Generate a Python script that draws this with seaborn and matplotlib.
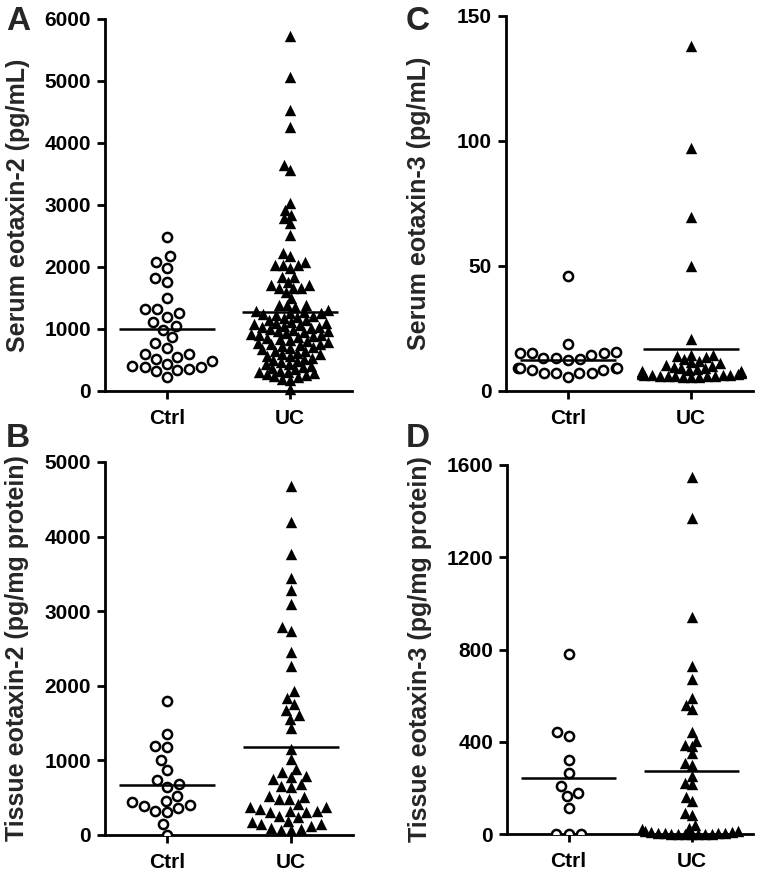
import numpy as np
import pandas as pd
import matplotlib
matplotlib.use('Agg')
import matplotlib.pyplot as plt
from matplotlib.transforms import Bbox, TransformedBbox
import seaborn as sns

groups = ['Ctrl', 'UC']

# A - serum eotaxin-2 (pg/mL)
serum_e2_ctrl = [2490, 2170, 2080, 1990, 1820, 1760, 1500, 1330, 1320, 1250,
                 1200, 1110, 1050, 990, 870, 770, 700, 600, 590, 550,
                 520, 480, 440, 400, 390, 380, 360, 340, 330, 230]
serum_e2_uc = [5730, 5070, 4530, 4260, 3650, 3570, 3030, 2920, 2840, 2790,
               2710, 2520, 2230, 2180, 2080, 2030, 2030, 2030, 1980, 1840,
               1840, 1760, 1710, 1710, 1660, 1660, 1660, 1600, 1500, 1390,
               1390, 1390, 1360,
               1300, 1290, 1270, 1260, 1250, 1240, 1230, 1210, 1200, 1180,
               1150, 1140, 1120, 1100, 1090, 1080, 1060, 1050, 1040, 1030,
               1010, 1000, 990, 970, 960, 950, 930, 920, 910, 900,
               880, 870, 860, 840, 820, 800, 790, 780, 760, 750,
               740, 720, 710, 690, 670, 650, 640, 620, 600, 590,
               570, 560, 540, 520, 500, 480, 460, 440, 430, 410,
               390, 370, 350, 330, 310, 300, 290, 280, 260, 240,
               220, 200, 180, 30]

# B - tissue eotaxin-2 (pg/mg protein)
tissue_e2_ctrl = [1797, 1351, 1182, 1191, 1003, 870, 682, 736, 638, 526,
                  437, 459, 392, 406, 357, 317, 303, 147, 0]
tissue_e2_uc = [4674, 4197, 3769, 3448, 3278, 3100, 2792, 2734, 2457, 2261,
                1842, 1931, 1753, 1681, 1561, 1610, 1432, 1151, 1017,
                883, 838, 749, 794, 772, 682, 660, 638,
                526, 513, 482, 482, 415, 348, 326, 370, 370, 303, 303, 317, 236, 259,
                192, 147, 147, 178, 125, 80, 67, 67, 94]

# C - serum eotaxin-3 (pg/mL)
serum_e3_ctrl = [46, 18.7, 15, 15, 14.3, 15, 15.7, 12.3, 13, 13, 12.7,
                 9, 8.3, 9, 9, 8.3, 9, 7, 7, 7, 7, 5.6]
serum_e3_uc = [138, 97.2, 69.6, 50, 20.9,
               14.5, 14.2, 13.8, 13.5, 12.6, 12, 11.5, 11, 10.5, 10,
               9.6, 9.2, 9, 8.7, 8.4, 8.1, 7.8, 7.6, 7.4, 7.2,
               7, 6.8, 6.6, 6.5, 6.4, 6.3, 6.2, 6.1, 6, 6,
               5.9, 5.8, 5.7, 5.6, 5.5]

# D - tissue eotaxin-3 (pg/mg protein)
tissue_e3_ctrl = [781, 424, 443, 323, 265, 207, 163, 178, 113, 0, 0, 0]
tissue_e3_uc = [1548, 1369, 942, 728, 674, 590, 561, 544, 441, 388,
                383, 402, 352, 301, 308, 253, 221, 217, 159, 142,
                91, 84, 41, 26,
                20, 15, 12, 10, 8, 6, 5, 4, 3, 2, 2, 1, 1, 0, 0, 0]

sns.set_style('ticks')
plt.rcParams['font.family'] = ['Liberation Sans', 'DejaVu Sans']
plt.rcParams['font.weight'] = 'bold'
plt.rcParams['axes.labelweight'] = 'bold'

fig = plt.figure(figsize=(7.62, 8.82), dpi=100)

# letter, ctrl, uc, ylabel, axes rect, ymax, ystep, triangle layout size
panels = [
    ('A', serum_e2_ctrl, serum_e2_uc, 'Serum eotaxin-2 (pg/mL)',
     [0.1378, 0.5567, 0.3241, 0.4218], 6000, 1000, 5.6),
    ('C', serum_e3_ctrl, serum_e3_uc, 'Serum eotaxin-3 (pg/mL)',
     [0.6640, 0.5567, 0.3241, 0.4252], 150, 50, 5.4),
    ('B', tissue_e2_ctrl, tissue_e2_uc, 'Tissue eotaxin-2 (pg/mg protein)',
     [0.1378, 0.0533, 0.3254, 0.4229], 5000, 1000, 7.0),
    ('D', tissue_e3_ctrl, tissue_e3_uc, 'Tissue eotaxin-3 (pg/mg protein)',
     [0.6654, 0.0544, 0.3228, 0.4184], 1600, 400, 4.6),
]

letter_pos = {'A': (6, 6), 'C': (406, 6), 'B': (6, 423), 'D': (406, 423)}

# swarm layout is computed with smaller markers, then markers are drawn bigger
# so that dense groups overlap like the original dot plots
CIRCLE_LAYOUT, CIRCLE_DRAW = 6.6, 7.0
TRI_DRAW = 8.2
swarms = []

for letter, ctrl, uc, ylabel, rect, ymax, ystep, tri_layout in panels:
    ax = fig.add_axes(rect)
    df = pd.DataFrame({'group': ['Ctrl'] * len(ctrl) + ['UC'] * len(uc),
                       'value': list(ctrl) + list(uc)})

    sns.swarmplot(data=df[df.group == 'Ctrl'], x='group', y='value', order=groups,
                  marker='o', color='white', size=CIRCLE_LAYOUT, linewidth=1.8,
                  edgecolor='black', ax=ax, warn_thresh=1)
    coll = ax.collections[-1]
    coll.set_facecolor('none')
    swarms.append((ax, coll, CIRCLE_DRAW))
    sns.swarmplot(data=df[df.group == 'UC'], x='group', y='value', order=groups,
                  marker='^', color='black', size=tri_layout, linewidth=0,
                  ax=ax, warn_thresh=1)
    swarms.append((ax, ax.collections[-1], TRI_DRAW))

    means = df.groupby('group')['value'].mean()
    for i, g in enumerate(groups):
        ax.hlines(means[g], i - 0.39, i + 0.39, color='black', lw=1.8, zorder=4)

    ax.set_xlim(-0.5, 1.5)
    ax.set_ylim(0, ymax)
    ax.set_yticks(np.arange(0, ymax + 1, ystep))
    ax.set_xlabel('')
    ax.set_ylabel(ylabel, fontsize=18, fontweight='bold')
    ax.yaxis.set_label_coords(-0.305, 0.5)
    ax.tick_params(axis='both', labelsize=15, width=2, length=6, color='black',
                   labelcolor='black')
    ax.tick_params(axis='x', pad=7)
    ax.tick_params(axis='y', pad=4)
    for lab in ax.get_xticklabels() + ax.get_yticklabels():
        lab.set_fontweight('bold')
    sns.despine(ax=ax)
    for side in ['left', 'bottom']:
        ax.spines[side].set_linewidth(2)
        ax.spines[side].set_color('black')

    lx, ly = letter_pos[letter]
    fig.text(lx / 762, 1 - ly / 882, letter, fontsize=24, fontweight='bold',
             ha='left', va='top')

# run the swarm layout once, then freeze the positions and enlarge the markers
fig.canvas.draw()
for ax, coll, size in swarms:
    if 'draw' in coll.__dict__:
        del coll.draw
    coll.set_sizes([size ** 2])
    # let markers sitting on the zero line show whole
    coll.set_clip_box(TransformedBbox(Bbox([[-0.05, -0.05], [1.05, 1.05]]),
                                      ax.transAxes))

fig.savefig('out.png', dpi=100)
